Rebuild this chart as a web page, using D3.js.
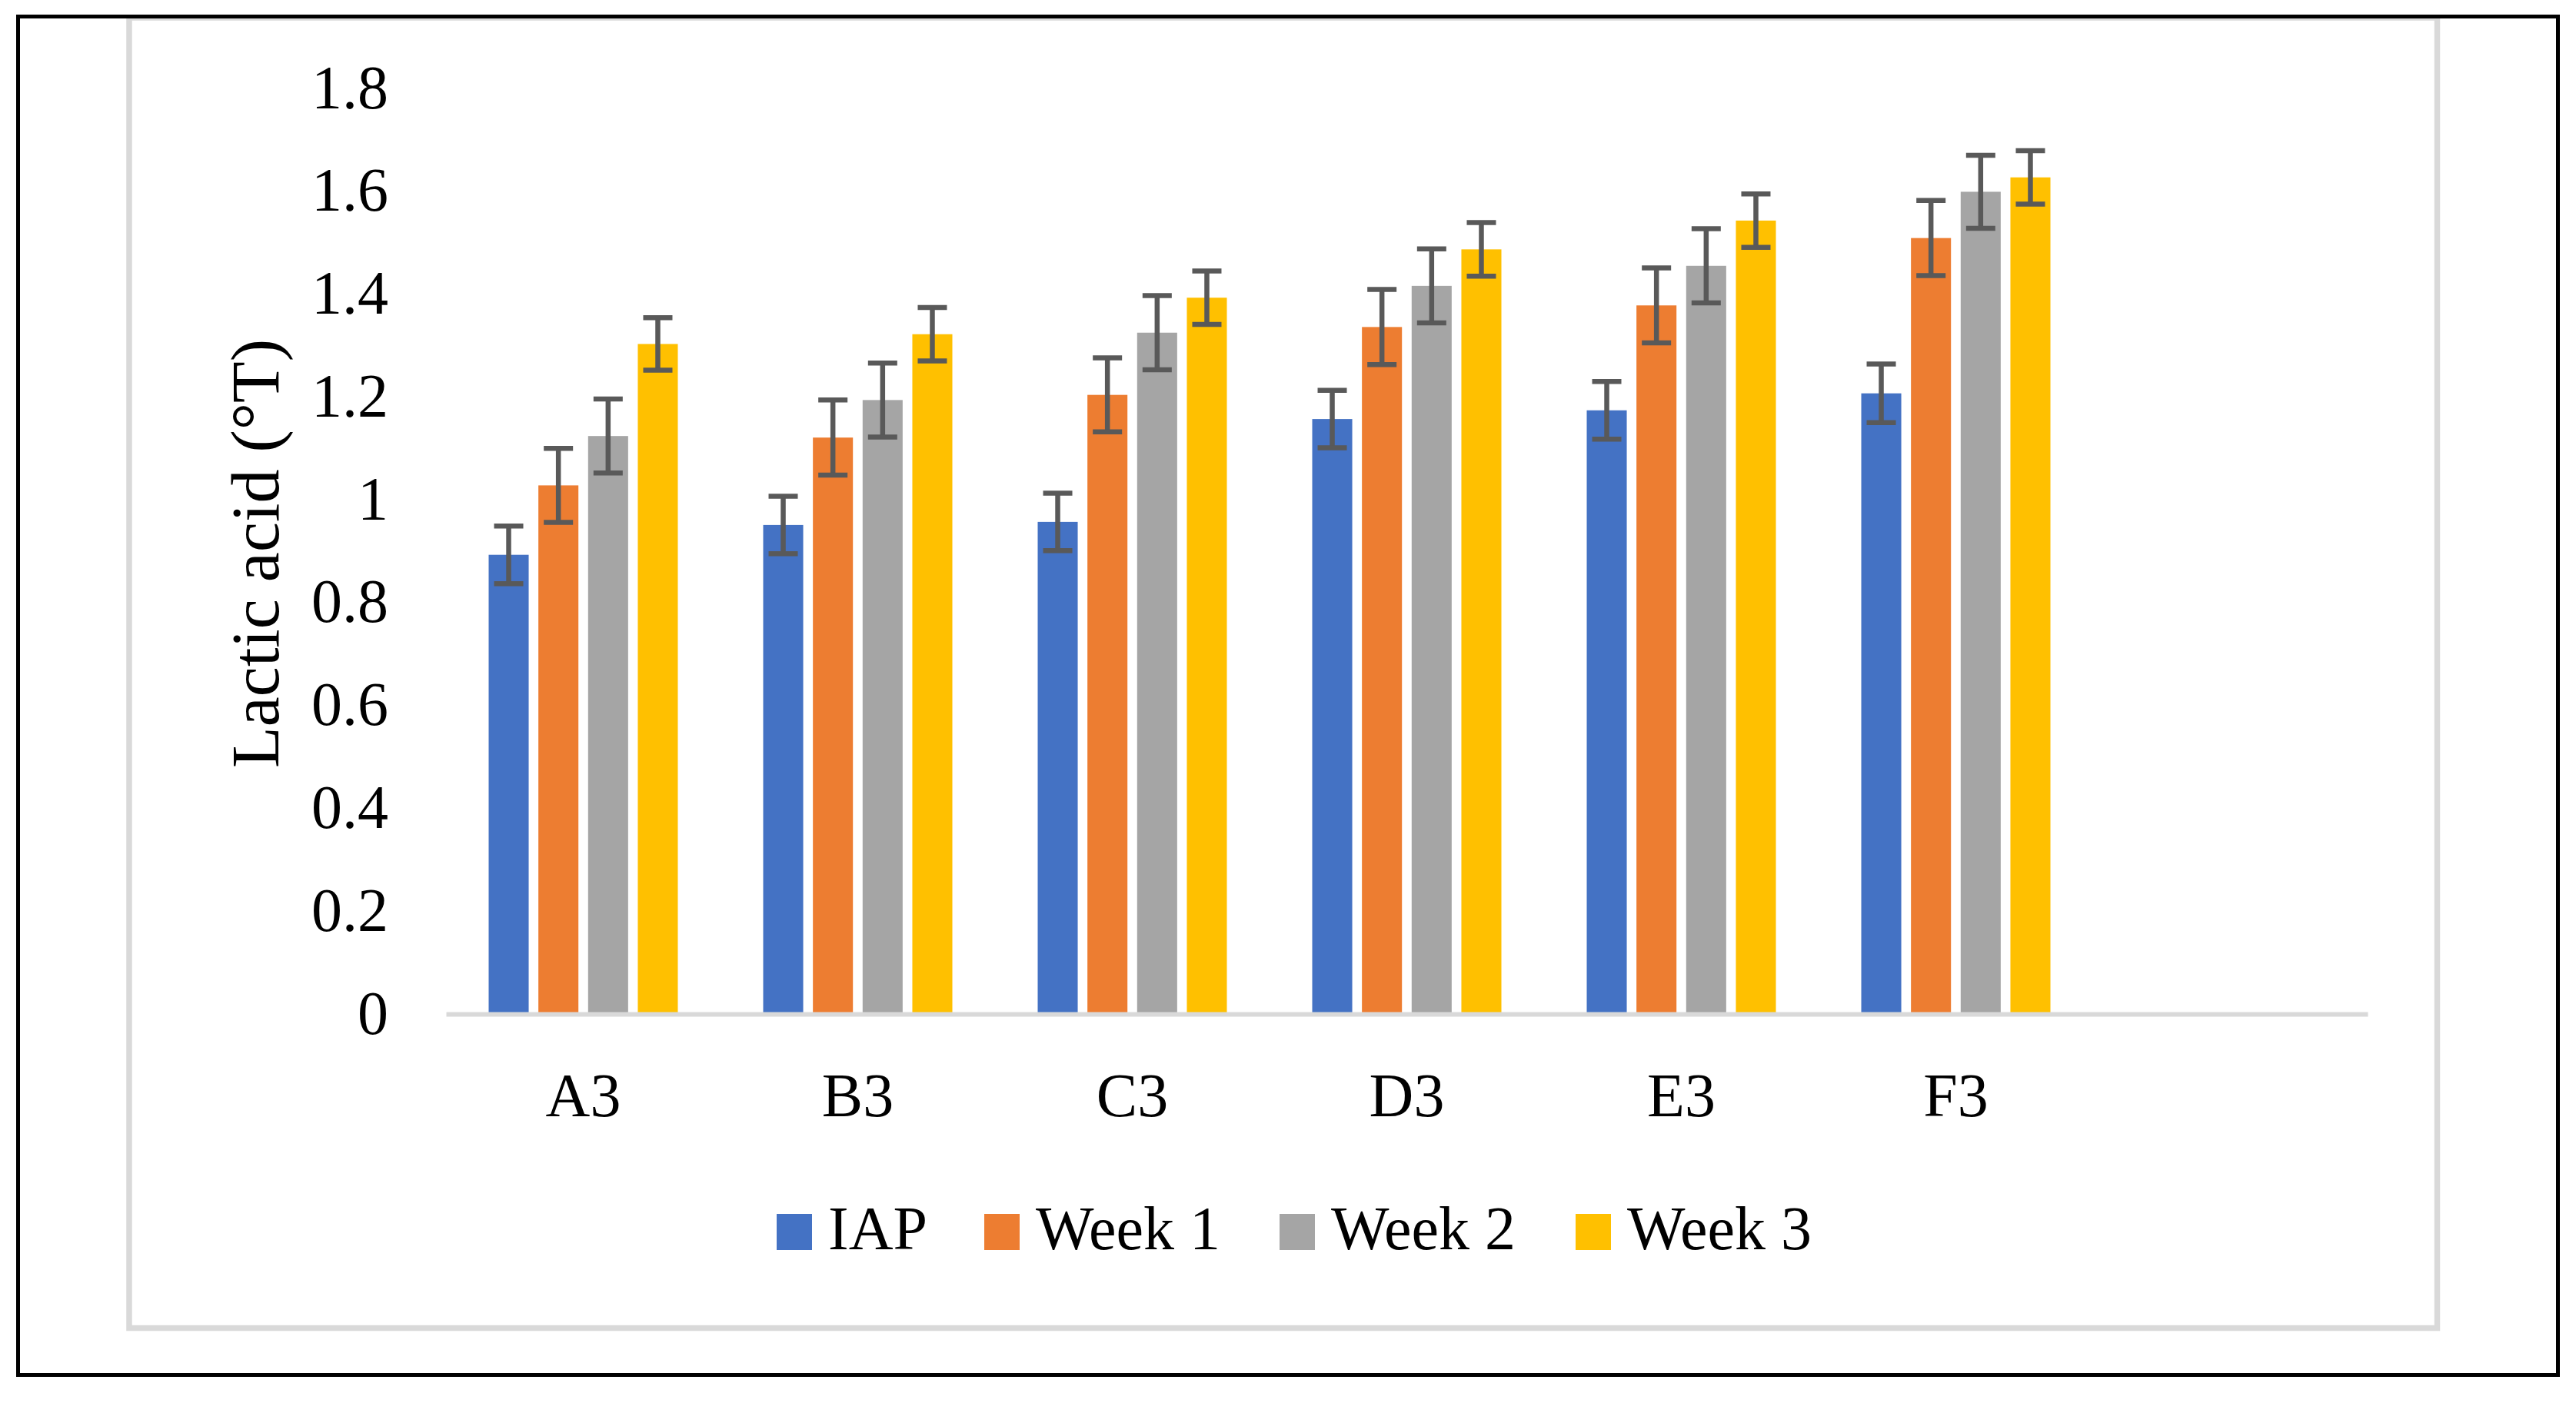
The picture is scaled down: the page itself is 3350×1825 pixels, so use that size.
<!DOCTYPE html>
<html>
<head>
<meta charset="utf-8">
<script src="https://cdn.jsdelivr.net/npm/d3@7"></script>
<style>
  html, body { margin: 0; padding: 0; background: #fff; }
  svg { display: block; }
  text { font-family: "Liberation Serif", "Times New Roman", serif; fill: #000; }
</style>
</head>
<body>
<svg id="chart" width="3350" height="1825"></svg>
<script>
// ---- data ----
const categories = ["A3", "B3", "C3", "D3", "E3", "F3"];
const seriesNames = ["IAP", "Week 1", "Week 2", "Week 3"];
const seriesColors = ["#4472C4", "#ED7D31", "#A5A5A5", "#FFC000"];
const iapValues   = [0.890, 0.948, 0.954, 1.154, 1.171, 1.204];
const week1Values = [1.025, 1.118, 1.201, 1.333, 1.375, 1.506];
const week2Values = [1.121, 1.191, 1.322, 1.413, 1.452, 1.596];
const week3Values = [1.300, 1.319, 1.390, 1.484, 1.540, 1.624];
const iapErrors   = [0.056, 0.056, 0.056, 0.056, 0.056, 0.057];
const week1Errors = [0.072, 0.073, 0.072, 0.073, 0.073, 0.073];
const week2Errors = [0.072, 0.072, 0.072, 0.072, 0.072, 0.071];
const week3Errors = [0.051, 0.052, 0.052, 0.052, 0.052, 0.052];
const yTicks = [0, 0.2, 0.4, 0.6, 0.8, 1, 1.2, 1.4, 1.6, 1.8];
const yTitle = "Lactic acid (°T)";

const seriesValues = [iapValues, week1Values, week2Values, week3Values];
const seriesErrors = [iapErrors, week1Errors, week2Errors, week3Errors];

const svg = d3.select("#chart");

// frames
svg.append("rect").attr("x", 168).attr("y", 23).attr("width", 3001.5).attr("height", 1704.5)
  .attr("fill", "none").attr("stroke", "#d9d9d9").attr("stroke-width", 7.5);
svg.append("rect").attr("x", 23.5).attr("y", 21.5).attr("width", 3303).attr("height", 1767)
  .attr("fill", "none").attr("stroke", "#000").attr("stroke-width", 5);

// scales (one empty slot after the last category, as in the original)
const slots = categories.concat([" "]);
const x = d3.scaleBand().domain(slots).range([580, 3079]).paddingInner(0).paddingOuter(0);
const groupW = 246;
const x1 = d3.scaleBand().domain(seriesNames)
  .range([(x.bandwidth() - groupW) / 2, (x.bandwidth() + groupW) / 2])
  .paddingInner(0.195).paddingOuter(0);
const y = d3.scaleLinear().domain([0, 1.8]).range([1317, 113]);

// y axis labels
const yAxis = d3.axisLeft(y).tickValues(yTicks).tickSize(0).tickPadding(0)
  .tickFormat(d => String(+d.toFixed(1)));
const gy = svg.append("g").attr("transform", "translate(505,0)").call(yAxis);
gy.select(".domain").remove();
gy.selectAll("text").attr("font-size", 80).attr("dy", null).attr("dominant-baseline", null)
  .attr("y", 27).attr("x", 0).attr("text-anchor", "end")
  .style("font-family", "'Liberation Serif', serif").attr("fill", "#000");

// bars
const groups = svg.append("g").selectAll("g").data(categories).join("g")
  .attr("transform", d => `translate(${x(d)},0)`);

seriesNames.forEach((name, si) => {
  groups.append("rect")
    .attr("x", x1(name))
    .attr("width", x1.bandwidth())
    .attr("y", (d, i) => y(seriesValues[si][i]))
    .attr("height", (d, i) => y(0) - y(seriesValues[si][i]))
    .attr("fill", seriesColors[si]);
});

// x axis baseline
const xAxis = d3.axisBottom(x).tickSize(0).tickPadding(0).tickSizeOuter(0);
const gx = svg.append("g").attr("transform", `translate(0,${y(0) + 2})`).call(xAxis);
gx.select(".domain").attr("stroke", "#d9d9d9").attr("stroke-width", 6);
gx.selectAll("text").attr("font-size", 80).attr("dy", null)
  .attr("y", 1452 - y(0) - 2)
  .style("font-family", "'Liberation Serif', serif").attr("fill", "#000");

// error bars
const capW = 38;
seriesNames.forEach((name, si) => {
  const eb = groups.append("g").attr("stroke", "#595959").attr("stroke-width", 6.5);
  const cx = x1(name) + x1.bandwidth() / 2;
  eb.append("line")
    .attr("x1", cx).attr("x2", cx)
    .attr("y1", (d, i) => y(seriesValues[si][i] + seriesErrors[si][i]))
    .attr("y2", (d, i) => y(seriesValues[si][i] - seriesErrors[si][i]));
  eb.append("line")
    .attr("x1", cx - capW / 2).attr("x2", cx + capW / 2)
    .attr("y1", (d, i) => y(seriesValues[si][i] + seriesErrors[si][i]))
    .attr("y2", (d, i) => y(seriesValues[si][i] + seriesErrors[si][i]));
  eb.append("line")
    .attr("x1", cx - capW / 2).attr("x2", cx + capW / 2)
    .attr("y1", (d, i) => y(seriesValues[si][i] - seriesErrors[si][i]))
    .attr("y2", (d, i) => y(seriesValues[si][i] - seriesErrors[si][i]));
});

// y title
svg.append("text").attr("transform", "translate(362,720) rotate(-90)")
  .attr("text-anchor", "middle").attr("font-size", 88).text(yTitle);

// legend (swatch left edges as laid out in the original)
const legendX = [1010, 1280, 1664, 2049];
const legend = svg.append("g");
seriesNames.forEach((name, si) => {
  const lx = legendX[si];
  legend.append("rect").attr("x", lx).attr("y", 1579).attr("width", 46).attr("height", 47)
    .attr("fill", seriesColors[si]);
  legend.append("text").attr("x", lx + 67).attr("y", 1625)
    .attr("font-size", 80).text(name);
});
</script>
</body>
</html>
